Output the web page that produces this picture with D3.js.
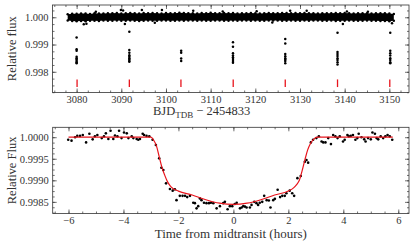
<!DOCTYPE html>
<html>
<head>
<meta charset="utf-8">
<script src="https://cdn.jsdelivr.net/npm/d3@7"></script>
<style>
  body { margin: 0; background: #fff; }
  svg text { font-family: "Liberation Serif", "DejaVu Serif", serif; fill: #333; }
</style>
</head>
<body>
<div id="chart"></div>
<script>
var svgWidth = 415;
var svgHeight = 249;

// ---- top panel data: light curve (days) ----
var bandStart = 3078;   // first day of the dense band, one sample per day
var bandHiPpm = [115,130,125,140,135,120,145,135,140,150,
                 145,155,140,150,160,150,140,155,150,160,
                 150,140,160,150,145,165,155,150,150,140,
                 160,150,165,150,145,155,150,160,140,150,
                 145,155,150,140,150,160,145,150,155,160,
                 150,160,150,155,145,150,140,150,145,150,
                 155,150,160,150,140,150,145,150,140,150,
                 145,150,140,120];
var bandLoPpm = [-120,-135,-150,-140,-145,-130,-125,-135,-120,-130,
                 -125,-120,-130,-125,-120,-130,-135,-125,-120,-130,
                 -125,-120,-115,-125,-130,-120,-125,-115,-120,-125,
                 -120,-130,-125,-120,-115,-125,-130,-120,-125,-120,
                 -115,-125,-120,-130,-125,-120,-115,-120,-125,-130,
                 -120,-125,-130,-120,-125,-115,-120,-130,-125,-120,
                 -135,-130,-125,-120,-125,-130,-125,-120,-130,-125,
                 -135,-140,-150,-130];
var outliers = [[3089.9,1.00027],[3090.4,1.00025],[3094.6,1.00027],[3099.1,1.00027],
                [3106.1,1.00024],[3120.3,1.00022],[3127.8,1.00024],[3131.5,1.00024],
                [3140.5,1.00021],[3081.6,0.99974],[3082.2,0.99976],[3090.8,0.99975],
                [3139.6,0.99975],[3150.6,0.99978],[3084.3,1.00020],[3112.7,1.00021],
                [3097.5,0.99980],[3145.2,1.00020],[3123.8,0.99981]];
var transitTimes = [3080.0, 3091.8, 3103.4, 3115.0, 3126.7, 3138.4, 3150.2];
var transitFlux = [
  [0.99926,0.99883,0.99877,0.99855,0.99850,0.99845,0.99840,0.99835,0.99831],
  [0.99947,0.99880,0.99870,0.99861,0.99855,0.99850,0.99845,0.99840,0.99837],
  [0.99877,0.99870,0.99849,0.99840],
  [0.99908,0.99892,0.99868,0.99860,0.99853,0.99847,0.99840,0.99833],
  [0.99920,0.99904,0.99865,0.99857,0.99850,0.99845,0.99840,0.99831],
  [0.99943,0.99873,0.99865,0.99858,0.99850,0.99843,0.99835,0.99827],
  [0.99943,0.99877,0.99868,0.99860,0.99850,0.99843,0.99835,0.99831]
];
var markerTimes = [3080.1, 3091.8, 3103.35, 3115.05, 3126.7, 3138.4, 3150.1];
var markerFlux = [0.99772, 0.99744];

// ---- bottom panel data: phase folded (hours) ----
var foldedPts = [
  [-6.01,0.99994],[-5.89,0.99992],[-5.76,1.00000],[-5.68,1.00003],[-5.58,1.00003],[-5.48,1.00005],
  [-5.36,0.99988],[-5.24,1.00008],[-5.12,0.99995],[-5.04,1.00002],[-4.95,1.00005],[-4.79,0.99998],
  [-4.71,1.00002],[-4.64,1.00009],[-4.55,0.99996],[-4.47,1.00015],[-4.37,0.99996],[-4.31,1.00004],
  [-4.22,1.00002],[-4.16,1.00015],[-4.07,0.99998],[-3.98,1.00011],[-3.88,1.00009],[-3.82,0.99998],
  [-3.70,1.00002],[-3.64,0.99998],[-3.52,0.99996],[-3.46,0.99994],[-3.40,0.99996],[-3.30,1.00008],
  [-3.25,1.00005],[-3.16,1.00003],[-3.06,1.00002],[-2.94,0.99994],[-2.82,0.99982],[-2.70,0.99951],
  [-2.62,0.99929],[-2.55,0.99924],[-2.45,0.99893],[-2.31,0.99880],[-2.21,0.99876],[-2.13,0.99879],
  [-2.07,0.99854],[-1.95,0.99864],[-1.85,0.99864],[-1.76,0.99864],[-1.68,0.99861],[-1.58,0.99864],
  [-1.46,0.99848],[-1.40,0.99847],[-1.34,0.99835],[-1.28,0.99840],[-1.22,0.99858],[-1.16,0.99854],
  [-1.07,0.99848],[-0.98,0.99847],
  [-0.89,0.99847],[-0.82,0.99848],[-0.73,0.99847],[-0.61,0.99835],[-0.49,0.99840],[-0.37,0.99847],
  [-0.31,0.99850],[-0.21,0.99833],[-0.13,0.99840],[-0.04,0.99840],[0.05,0.99845],[0.12,0.99848],
  [0.24,0.99835],[0.30,0.99837],[0.36,0.99840],[0.42,0.99839],[0.48,0.99837],[0.60,0.99837],
  [0.66,0.99843],[0.76,0.99850],[0.84,0.99847],[0.90,0.99843],[0.96,0.99848],[1.05,0.99850],
  [1.12,0.99864],[1.21,0.99854],[1.29,0.99853],[1.35,0.99837],[1.45,0.99854],[1.51,0.99857],
  [1.61,0.99878],[1.70,0.99861],[1.78,0.99864],[1.87,0.99864],[1.93,0.99870],[2.05,0.99876],
  [2.14,0.99870],[2.21,0.99864],[2.33,0.99905],[2.45,0.99910],[2.60,0.99943],[2.66,0.99947],
  [2.72,0.99941],[2.82,0.99988],[2.90,0.99994],[3.02,0.99998],[3.11,1.00002],[3.21,0.99990],
  [3.27,0.99988],[3.35,0.99988],[3.45,0.99998],[3.55,0.99984],[3.63,1.00005],[3.71,1.00002],
  [3.79,0.99998],[3.87,1.00002],[3.99,0.99990],[4.05,0.99994],[4.15,1.00005],[4.20,1.00002],
  [4.27,1.00003],[4.35,1.00005],[4.44,0.99994],[4.51,0.99998],[4.56,1.00008],[4.66,1.00000],
  [4.76,0.99995],[4.81,0.99990],[4.90,0.99998],[5.00,0.99995],[5.06,1.00011],[5.15,1.00008],
  [5.21,0.99998],[5.27,0.99995],[5.36,1.00002],[5.45,0.99998],[5.53,1.00002],[5.61,1.00005],
  [5.69,1.00002],[5.78,0.99994]
];
var modelT = [-6.0,-3.0,-2.9,-2.8,-2.7,-2.6,-2.5,-2.4,-2.3,-2.2,-2.0,-1.5,-1.0,-0.5,0.0,
              0.5,1.0,1.5,2.0,2.2,2.3,2.4,2.5,2.6,2.7,2.8,2.9,3.05,5.8];
var modelF = [1.0,1.0,0.99993,0.99980,0.99955,0.99930,0.99912,0.99897,0.99887,0.99881,0.99875,
              0.99866,0.99855,0.99847,0.99844,0.99847,0.99855,0.99866,0.99875,0.99883,0.99890,
              0.99900,0.99922,0.99947,0.99970,0.99985,0.99994,1.0,1.0];

var serif = '"Liberation Serif", "DejaVu Serif", serif';

var svg = d3.select("#chart").append("svg")
  .attr("width", svgWidth)
  .attr("height", svgHeight)
  .attr("font-family", serif);

// draw a boxed frame with inward ticks on all four sides
function drawFrame(x, y, xMajor, xMinor, yMajor, yMinor, xFmt, yFmt) {
  var r = x.range(), ry = y.range();
  var x0 = r[0], x1 = r[1], yb = ry[0], yt = ry[1];
  var g = svg.append("g");

  function add(axis, tx, ty, labels) {
    var a = g.append("g").attr("transform", `translate(${tx},${ty})`).call(axis);
    a.attr("font-family", serif).attr("font-size", 11);
    a.select(".domain").remove();
    a.selectAll("line").attr("stroke", "#333").attr("stroke-width", 0.7);
    if (!labels) a.selectAll("text").remove();
    else a.selectAll("text").style("font-family", serif).style("font-size", "10.5px").attr("fill", "#333");
    return a;
  }
  add(d3.axisBottom(x).tickValues(xMajor).tickSize(-4).tickPadding(3).tickFormat(xFmt), 0, yb, true);
  add(d3.axisBottom(x).tickValues(xMinor).tickSize(-2), 0, yb, false);
  add(d3.axisTop(x).tickValues(xMajor).tickSize(-4), 0, yt, false);
  add(d3.axisTop(x).tickValues(xMinor).tickSize(-2), 0, yt, false);
  add(d3.axisLeft(y).tickValues(yMajor).tickSize(-4).tickPadding(4).tickFormat(yFmt), x0, 0, true);
  add(d3.axisLeft(y).tickValues(yMinor).tickSize(-2), x0, 0, false);
  add(d3.axisRight(y).tickValues(yMajor).tickSize(-4), x1, 0, false);
  add(d3.axisRight(y).tickValues(yMinor).tickSize(-2), x1, 0, false);

  g.append("rect")
    .attr("x", x0).attr("y", yt)
    .attr("width", x1 - x0).attr("height", yb - yt)
    .attr("fill", "none").attr("stroke", "#333").attr("stroke-width", 0.8);
}

// ================= top panel =================
var xTop = d3.scaleLinear().domain([3074.6, 3154.4]).range([52.5, 409]);
var yTop = d3.scaleLinear().domain([0.99724, 1.00045]).range([92.5, 5]);

var band = bandHiPpm.map((h, i) => ({t: bandStart + i, hi: 1 + h * 1e-6, lo: 1 + bandLoPpm[i] * 1e-6}));
band[band.length - 1].t = 3151.0;

var topG = svg.append("g");
topG.append("path")
  .datum(band)
  .attr("d", d3.area().x(d => xTop(d.t)).y0(d => yTop(d.lo)).y1(d => yTop(d.hi)))
  .attr("fill", "#000");

var edgePts = band.map(d => [d.t, d.hi]).concat(band.map(d => [d.t, d.lo]));
var transitPts = [];
transitTimes.forEach(function(t, i) {
  transitFlux[i].forEach(f => transitPts.push([t, f]));
});

topG.selectAll("circle.pt")
  .data(edgePts.concat(outliers, transitPts))
  .enter().append("circle")
  .attr("cx", d => xTop(d[0]))
  .attr("cy", d => yTop(d[1]))
  .attr("r", 1.25)
  .attr("fill", "#000");

topG.selectAll("line.mark")
  .data(markerTimes)
  .enter().append("line")
  .attr("x1", d => xTop(d)).attr("x2", d => xTop(d))
  .attr("y1", yTop(markerFlux[0])).attr("y2", yTop(markerFlux[1]))
  .attr("stroke", "#e8141c").attr("stroke-width", 1.3);

drawFrame(xTop, yTop,
  d3.range(3080, 3151, 10), d3.range(3075, 3155, 2.5),
  [0.998, 0.999, 1.000], d3.range(0.99725, 1.00045, 0.00025),
  d3.format("d"), d3.format(".3f"));

svg.append("text")
  .attr("transform", "translate(16,48.7) rotate(-90)")
  .attr("text-anchor", "middle")
  .style("font-size", "12.5px")
  .text("Relative flux");

var xl = svg.append("text")
  .attr("x", 153).attr("y", 115)
  .style("font-size", "12.5px");
xl.append("tspan").text("BJD");
xl.append("tspan").attr("dy", 3).style("font-size", "9px").text("TDB");
xl.append("tspan").attr("dy", -3).text(" \u2212 2454833");

// ================= bottom panel =================
var xBot = d3.scaleLinear().domain([-6.575, 6.39]).range([52.7, 409]);
var yBot = d3.scaleLinear().domain([0.99823, 1.00023]).range([213.5, 127.3]);

var botG = svg.append("g");
botG.selectAll("circle")
  .data(foldedPts)
  .enter().append("circle")
  .attr("cx", d => xBot(d[0]))
  .attr("cy", d => yBot(d[1]))
  .attr("r", 1.3)
  .attr("fill", "#000");

botG.append("path")
  .datum(modelT.map((t, i) => [t, modelF[i]]))
  .attr("d", d3.line().x(d => xBot(d[0])).y(d => yBot(d[1])).curve(d3.curveMonotoneX))
  .attr("fill", "none")
  .attr("stroke", "#e8141c")
  .attr("stroke-width", 1.2);

drawFrame(xBot, yBot,
  [-6, -4, -2, 0, 2, 4, 6], d3.range(-6.5, 6.4, 0.5),
  [0.9985, 0.9990, 0.9995, 1.0000], d3.range(0.99825, 1.00023, 0.000125),
  d3.format("d"), d3.format(".4f"));

svg.append("text")
  .attr("transform", "translate(16,170.4) rotate(-90)")
  .attr("text-anchor", "middle")
  .style("font-size", "12.5px")
  .text("Relative Flux");

svg.append("text")
  .attr("x", 230.8).attr("y", 238)
  .attr("text-anchor", "middle")
  .style("font-size", "13px")
  .text("Time from midtransit (hours)");
</script>
</body>
</html>
